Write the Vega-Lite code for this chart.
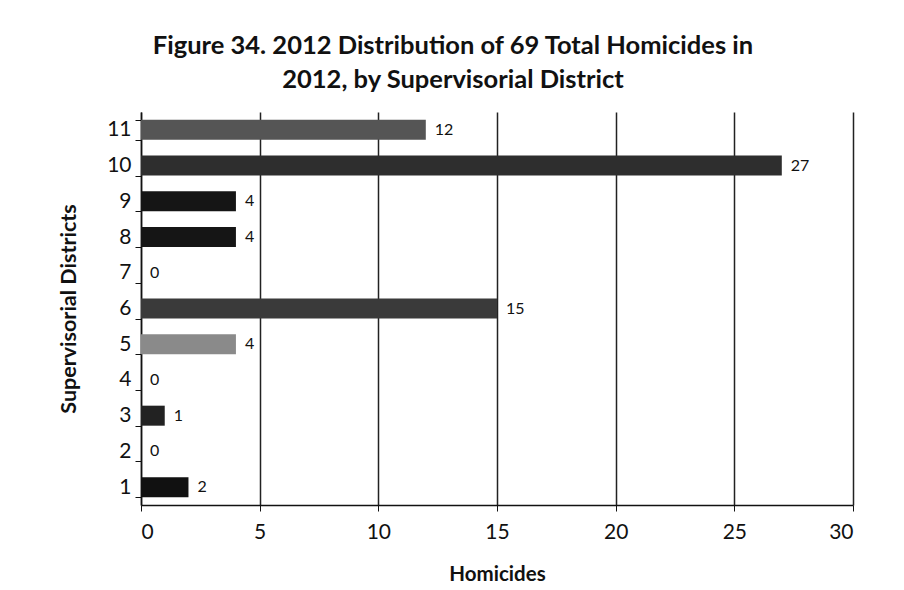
{
  "$schema": "https://vega.github.io/schema/vega-lite/v6.json",
  "autosize": "none",
  "width": 712,
  "height": 393,
  "padding": {"left": 141, "top": 112, "right": 51, "bottom": 85},
  "background": "white",
  "title": {
    "text": ["Figure 34. 2012 Distribution of 69 Total Homicides in", "2012, by Supervisorial District"],
    "font": "Lato",
    "fontSize": 25.5,
    "fontWeight": "bold",
    "color": "#111",
    "lineHeight": 34,
    "offset": 8,
    "dx": -44
  },
  "data": {
    "values": [
      {"district": 1, "homicides": 2},
      {"district": 2, "homicides": 0},
      {"district": 3, "homicides": 1},
      {"district": 4, "homicides": 0},
      {"district": 5, "homicides": 4},
      {"district": 6, "homicides": 15},
      {"district": 7, "homicides": 0},
      {"district": 8, "homicides": 4},
      {"district": 9, "homicides": 4},
      {"district": 10, "homicides": 27},
      {"district": 11, "homicides": 12}
    ]
  },
  "encoding": {
    "y": {
      "field": "district",
      "type": "ordinal",
      "sort": "descending",
      "scale": {"paddingInner": 0.44, "paddingOuter": 0.22},
      "axis": {
        "title": "Supervisorial Districts",
        "titleFont": "Lato",
        "titleFontSize": 21.5,
        "titleFontWeight": "bold",
        "titleColor": "#111",
        "titlePadding": 26,
        "labelFont": "Lato",
        "labelFontSize": 21,
        "labelColor": "#111",
        "labelPadding": 4,
        "tickBand": "extent",
        "tickColor": "#111",
        "tickSize": 6,
        "domainColor": "#111",
        "domainWidth": 1.5,
        "grid": false
      }
    },
    "x": {
      "field": "homicides",
      "type": "quantitative",
      "scale": {"domain": [0, 30]},
      "axis": {
        "title": "Homicides",
        "values": [0, 5, 10, 15, 20, 25, 30],
        "titleFont": "Lato",
        "titleFontSize": 20.5,
        "titleFontWeight": "bold",
        "titleColor": "#111",
        "titlePadding": 22,
        "labelFont": "Lato",
        "labelFontSize": 21,
        "labelColor": "#111",
        "labelPadding": 10,
        "tickColor": "#111",
        "tickSize": 6,
        "domainColor": "#111",
        "domainWidth": 1.5,
        "grid": true,
        "gridColor": "#222",
        "gridWidth": 1.5
      }
    }
  },
  "layer": [
    {
      "mark": {"type": "bar"},
      "encoding": {
        "color": {
          "field": "district",
          "type": "ordinal",
          "legend": null,
          "scale": {
            "domain": [1, 2, 3, 4, 5, 6, 7, 8, 9, 10, 11],
            "range": ["#111", "#333", "#222", "#333", "#8a8a8a", "#3a3a3a", "#333", "#151515", "#151515", "#2e2e2e", "#555"]
          }
        }
      }
    },
    {
      "mark": {"type": "text", "align": "left", "dx": 9, "font": "Lato", "fontSize": 16, "color": "#111"},
      "encoding": {"text": {"field": "homicides", "type": "quantitative"}}
    }
  ],
  "config": {"view": {"stroke": null}}
}
